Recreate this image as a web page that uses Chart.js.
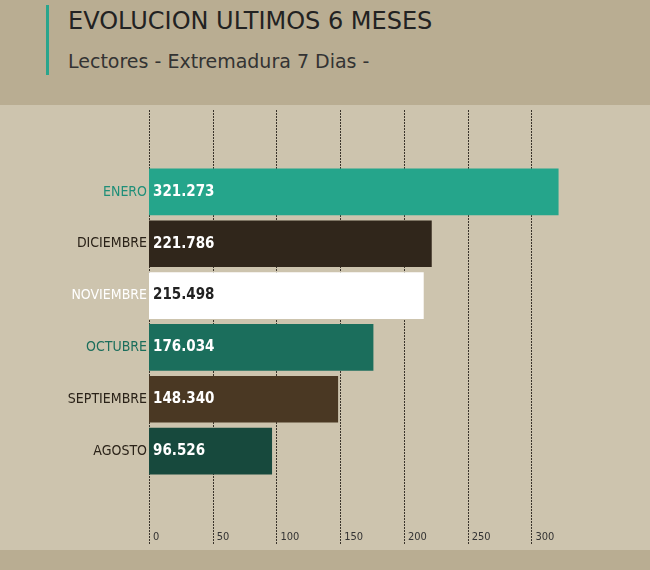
<!DOCTYPE html>
<html lang="es">
<head>
<meta charset="UTF-8">
<title>Evolucion ultimos 6 meses</title>
<script src="https://cdn.jsdelivr.net/npm/chart.js"></script>
<style>
    body { margin: 0; width: 650px; height: 570px; overflow: hidden; background: #c9bea6; font-family: "DejaVu Sans", sans-serif; }
    .cabecera { position: absolute; left: 0; top: 0; width: 650px; height: 105px; background: #b9ad92; }
    .barra { position: absolute; left: 46px; top: 5px; width: 3px; height: 70px; background: #2aa58c; }
    .titulo { position: absolute; left: 68px; top: 7px; font-size: 24px; color: #222; }
    .subtitulo { position: absolute; left: 68px; top: 50px; font-size: 19px; color: #333; }
    .pie { position: absolute; left: 0; top: 550px; width: 650px; height: 20px; background: #b9ad92; }
    .grafico { position: absolute; left: 0; top: 105px; width: 650px; height: 445px; background: #cdc4ae; }
</style>
</head>
<body>
<div class="cabecera"></div>
<div class="barra"></div>
<div class="titulo">EVOLUCION ULTIMOS 6 MESES</div>
<div class="subtitulo">Lectores - Extremadura 7 Dias -</div>
<div class="grafico"><canvas id="grafico"></canvas></div>
<div class="pie"></div>
<script>
// datos (miles de lectores)
const meses = ["ENERO", "DICIEMBRE", "NOVIEMBRE", "OCTUBRE", "SEPTIEMBRE", "AGOSTO"];
const lectores = [321.273, 221.786, 215.498, 176.034, 148.340, 96.526];
const etiquetas = ["321.273", "221.786", "215.498", "176.034", "148.340", "96.526"];
const colores = ["#25a58b", "#30261b", "#ffffff", "#1b6e5c", "#4a3823", "#17493d"];
const coloresTexto = ["#1f8f78", "#2a2218", "#ffffff", "#1b6e5c", "#2a2218", "#2a2218"];
const colorValor = ["#fff", "#fff", "#222", "#fff", "#fff", "#fff"];
const marcas = [0, 50, 100, 150, 200, 250, 300];

const fuente = '"DejaVu Sans Condensed", "DejaVu Sans", sans-serif';

// dibuja rejilla, etiquetas de meses, valores y marcas del eje
const extras = {
    id: 'extras',
    beforeDatasetsDraw(chart) {
        const ctx = chart.ctx, x = chart.scales.x;
        ctx.save();
        ctx.strokeStyle = '#3a342b';
        ctx.lineWidth = 1;
        ctx.setLineDash([2, 1]);
        marcas.forEach(m => {
            const px = Math.round(x.getPixelForValue(m)) + 0.5;
            ctx.beginPath(); ctx.moveTo(px, 5); ctx.lineTo(px, 440); ctx.stroke();
        });
        ctx.setLineDash([]);
        ctx.fillStyle = '#333';
        ctx.font = '11px ' + fuente;
        ctx.textBaseline = 'middle';
        marcas.forEach(m => ctx.fillText(String(m), x.getPixelForValue(m) + 4, 432));
        ctx.restore();
    },
    afterDatasetsDraw(chart) {
        const ctx = chart.ctx, meta = chart.getDatasetMeta(0);
        ctx.save();
        ctx.textBaseline = 'middle';
        meta.data.forEach((bar, i) => {
            ctx.font = '14px ' + fuente;
            ctx.textAlign = 'right';
            ctx.fillStyle = coloresTexto[i];
            ctx.fillText(meses[i], bar.base - 2, bar.y);
            ctx.font = 'bold 15px ' + fuente;
            ctx.textAlign = 'left';
            ctx.fillStyle = colorValor[i];
            ctx.fillText(etiquetas[i], bar.base + 4, bar.y);
        });
        ctx.restore();
    }
};

new Chart(document.getElementById('grafico'), {
    type: 'bar',
    data: {
        labels: meses,
        datasets: [{
            data: lectores,
            backgroundColor: colores,
            barPercentage: 0.9,
            categoryPercentage: 1
        }]
    },
    options: {
        indexAxis: 'y',
        responsive: true,
        maintainAspectRatio: false,
        animation: false,
        layout: { padding: { left: 149, right: 0, top: 61, bottom: 73 } },
        plugins: { legend: { display: false }, tooltip: { enabled: false } },
        scales: {
            x: { min: 0, max: 393, display: false },
            y: { display: false }
        }
    },
    plugins: [extras]
});
</script>
</body>
</html>
